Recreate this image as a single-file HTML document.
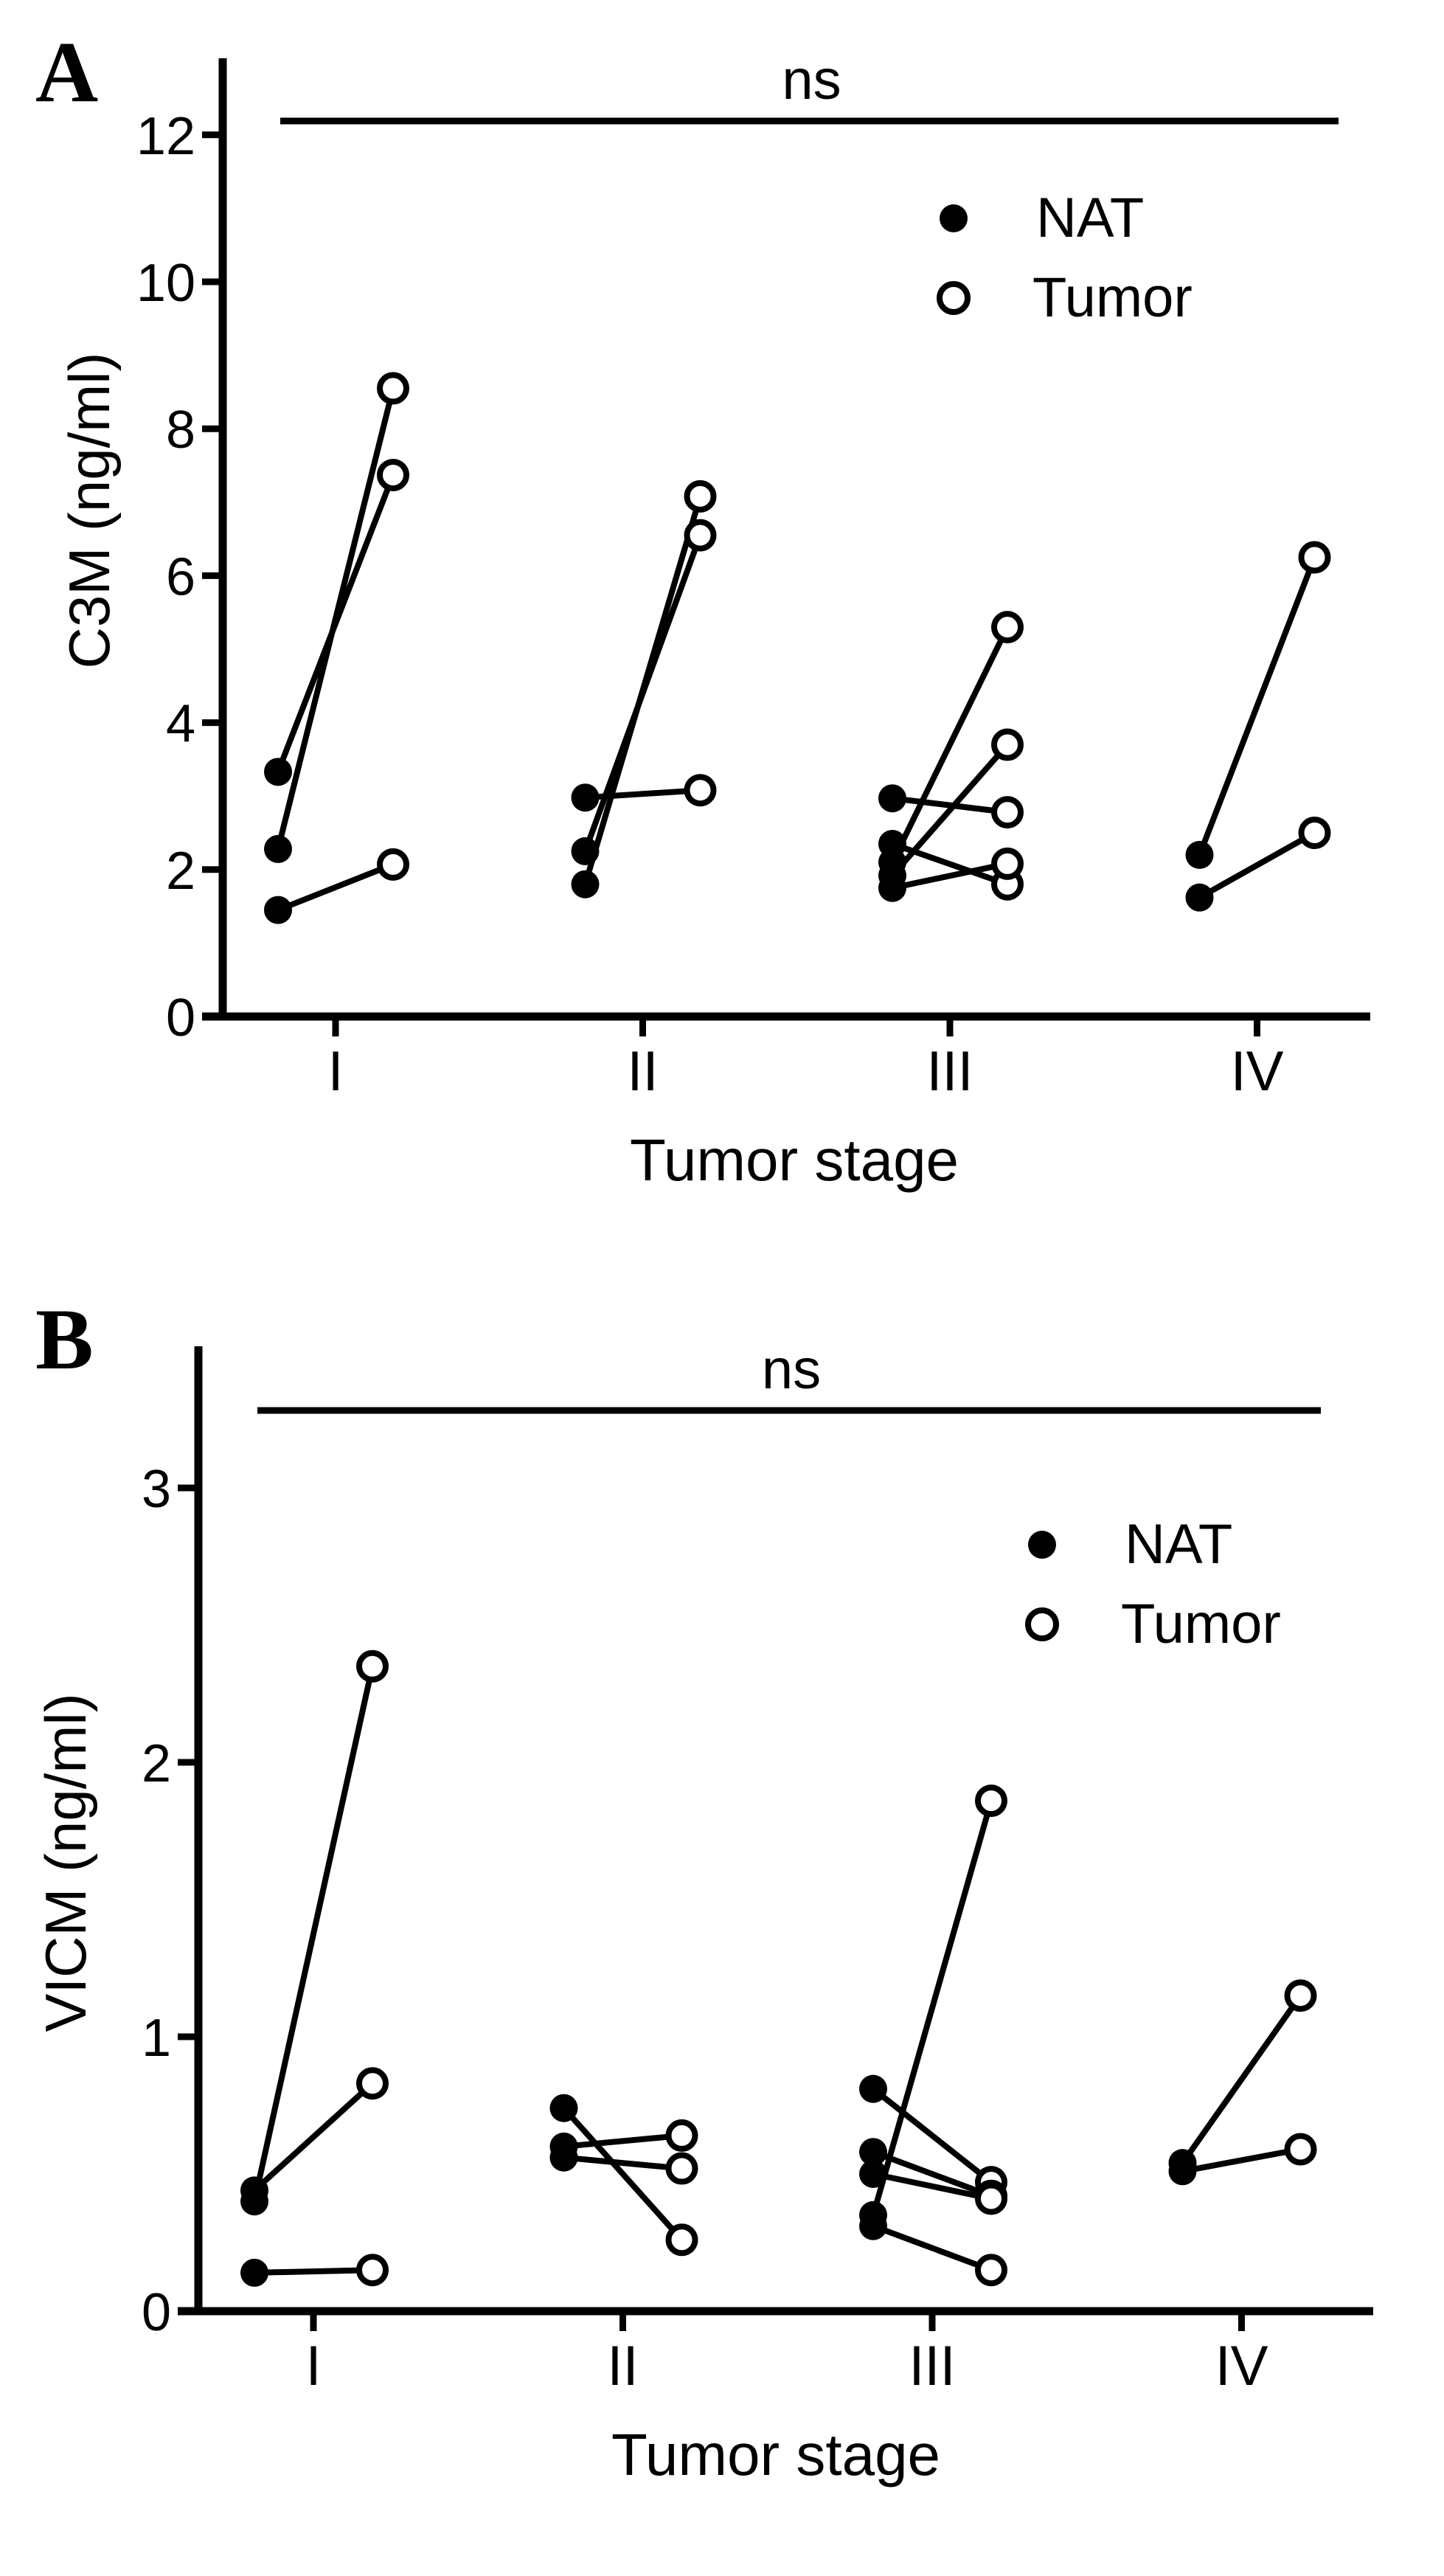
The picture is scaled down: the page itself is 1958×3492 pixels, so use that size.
<!DOCTYPE html>
<html><head><meta charset="utf-8">
<style>
html,body{margin:0;padding:0;background:#fff;}
svg{display:block;}
text{font-family:"Liberation Sans",Arial,sans-serif;fill:#000;}
.serif{font-family:"Liberation Serif","Times New Roman",serif;font-weight:bold;}
</style></head>
<body>
<svg id="fig" width="1958" height="3492" viewBox="0 0 1958 3492" xmlns="http://www.w3.org/2000/svg">
<rect width="1958" height="3492" fill="#fff"/>
</svg>
<script>
// ---- Panel A data (C3M ng/ml) ----
const stagesA = ["I","II","III","IV"];
const natA = [[3.33,2.28,1.45],[2.98,2.25,1.80],[2.97,2.35,2.10,1.92,1.75],[2.20,1.62]];
const tumA = [[7.37,8.55,2.07],[3.08,6.55,7.08],[2.78,1.80,5.30,3.70,2.08],[6.25,2.50]];
const ticksA = [0,2,4,6,8,10,12];
// ---- Panel B data (VICM ng/ml) ----
const stagesB = ["I","II","III","IV"];
const natB = [[0.44,0.40,0.14],[0.74,0.60,0.56],[0.81,0.58,0.50,0.35,0.31],[0.54,0.51]];
const tumB = [[0.83,2.35,0.15],[0.26,0.64,0.52],[0.47,0.42,0.41,1.86,0.15],[1.15,0.59]];
const ticksB = [0,1,2,3];

const NS="http://www.w3.org/2000/svg";
const svg=document.getElementById('fig');
function mk(tag,attrs,parent){const e=document.createElementNS(NS,tag);for(const k in attrs)e.setAttribute(k,attrs[k]);(parent||svg).appendChild(e);return e;}

function panel(cfg){
  const g=mk('g',{});
  
  
  const y=v=>cfg.y0-(v-0)*cfg.unit;
  const x=(i)=>cfg.x0+i*cfg.step;
  // letter
  const L=mk('text',{x:cfg.letterX,y:cfg.letterY,'font-size':118,class:'serif'},g);
  L.textContent=cfg.letter;
  
  
  // y axis
  const ya=mk('line',{x1:cfg.axX,y1:cfg.axTop,x2:cfg.axX,y2:cfg.y0+5,stroke:'#000','stroke-width':11},g);
  
  
  const xa=mk('line',{x1:cfg.axX-28,y1:cfg.y0,x2:cfg.axEnd,y2:cfg.y0,stroke:'#000','stroke-width':11},g);
  
  
  cfg.ticks.forEach(t=>{
    const tk=mk('line',{x1:cfg.axX-28,y1:y(t),x2:cfg.axX,y2:y(t),stroke:'#000','stroke-width':9},g);
    
    
    const tl=mk('text',{x:cfg.axX-37,y:y(t)+26,'font-size':72,'text-anchor':'end'},g);
    tl.textContent=t;
    
    
  });
  cfg.stages.forEach((s,i)=>{
    const tk=mk('line',{x1:x(i),y1:cfg.y0,x2:x(i),y2:cfg.y0+27,stroke:'#000','stroke-width':9},g);
    
    
    const tl=mk('text',{x:x(i),y:cfg.y0+100,'font-size':76,'text-anchor':'middle'},g);
    tl.textContent=s;
    
    
  });
  // titles
  const xt=mk('text',{x:cfg.xTitleX,y:cfg.y0+222,'font-size':80,'text-anchor':'middle'},g);
  xt.textContent='Tumor stage';
  
  
  const yt=mk('text',{x:0,y:0,'font-size':78,'text-anchor':'middle',transform:`translate(${cfg.yTitleX},${cfg.yTitleY}) rotate(-90)`},g);
  yt.textContent=cfg.yTitle;
  
  
  // ns bar
  const nb=mk('line',{x1:cfg.nsX1,y1:cfg.nsY,x2:cfg.nsX2,y2:cfg.nsY,stroke:'#000','stroke-width':9},g);
  
  
  const nt=mk('text',{x:(cfg.nsX1+cfg.nsX2)/2+3,y:cfg.nsY-30,'font-size':76,'text-anchor':'middle'},g);
  nt.textContent='ns';
  
  
  // data
  cfg.nat.forEach((arr,i)=>{
    arr.forEach((v,j)=>{
      const tv=cfg.tum[i][j];
      const xn=x(i)-cfg.off, xtm=x(i)+cfg.off;
      const ln=mk('line',{x1:xn,y1:y(v),x2:xtm,y2:y(tv),stroke:'#000','stroke-width':8},g);
      
      
    });
  });
  cfg.nat.forEach((arr,i)=>{
    arr.forEach((v,j)=>{
      const tv=cfg.tum[i][j];
      const c=mk('circle',{cx:x(i)-cfg.off,cy:y(v),r:19,fill:'#000'},g);
      
      
      const o=mk('circle',{cx:x(i)+cfg.off,cy:y(tv),r:18,fill:'#fff',stroke:'#000','stroke-width':8},g);
      
      
    });
  });
  // legend
  const lc=mk('circle',{cx:cfg.legX,cy:cfg.legY,r:19,fill:'#000'},g);
  
  
  const lt=mk('text',{x:cfg.legX+112,y:cfg.legY+25,'font-size':76},g);
  lt.textContent='NAT';
  
  
  const lo=mk('circle',{cx:cfg.legX,cy:cfg.legY+108,r:19,fill:'#fff',stroke:'#000','stroke-width':8},g);
  
  
  const lt2=mk('text',{x:cfg.legX+107,y:cfg.legY+133,'font-size':76},g);
  lt2.textContent='Tumor';
  
  
}

panel({name:'panel-a-chart',letter:'A',letterX:48,letterY:137,axX:302,axTop:79,y0:1378,unit:99.6,axEnd:1858,
  x0:455,step:416.5,off:78,ticks:ticksA,stages:stagesA,nat:natA,tum:tumA,
  xTitleX:1077,yTitle:'C3M (ng/ml)',yTitleX:148,yTitleY:692,
  nsX1:380,nsX2:1815,nsY:164,legX:1293,legY:296});
panel({name:'panel-b-chart',letter:'B',letterX:48,letterY:1855,axX:269,axTop:1825,y0:3133,unit:372,axEnd:1862,
  x0:425,step:419.5,off:80,ticks:ticksB,stages:stagesB,nat:natB,tum:tumB,
  xTitleX:1052,yTitle:'VICM (ng/ml)',yTitleX:116,yTitleY:2525,
  nsX1:349,nsX2:1791,nsY:1912,legX:1413,legY:2094});
</script>
</body></html>
